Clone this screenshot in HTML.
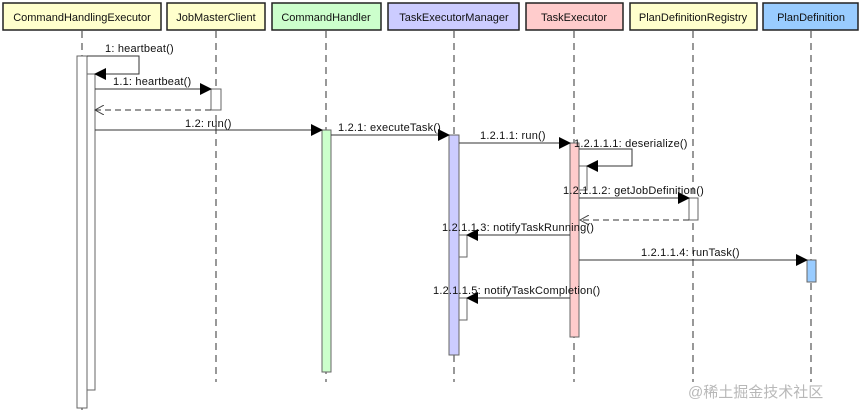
<!DOCTYPE html>
<html><head><meta charset="utf-8"><style>
html,body{margin:0;padding:0;background:#fff;}
svg{display:block;}
text{font-family:"Liberation Sans","Noto Sans CJK SC",sans-serif;font-size:11px;letter-spacing:0.2px;fill:#111;}
</style></head><body>
<svg width="864" height="414" viewBox="0 0 864 414" xmlns="http://www.w3.org/2000/svg">
<defs>
<marker id="a" markerWidth="12" markerHeight="12" refX="11" refY="6" orient="auto" markerUnits="userSpaceOnUse"><path d="M0,0 L12,6 L0,12 Z" fill="#000"/></marker>
<marker id="o" markerWidth="10" markerHeight="10" refX="9" refY="5" orient="auto" markerUnits="userSpaceOnUse"><path d="M0,0 L9,5 L0,10" fill="none" stroke="#444" stroke-width="1"/></marker>
</defs>
<g stroke="#222" stroke-width="1.5">
<rect x="3" y="3" width="158" height="27" fill="#ffffcc"/>
<rect x="167" y="3" width="98" height="27" fill="#ffffcc"/>
<rect x="272" y="3" width="109" height="27" fill="#ccffcc"/>
<rect x="388" y="3" width="131" height="27" fill="#ccccff"/>
<rect x="526" y="3" width="97" height="27" fill="#ffcccc"/>
<rect x="630" y="3" width="127" height="27" fill="#ffffcc"/>
<rect x="763" y="3" width="95" height="27" fill="#99ccff"/>
</g>
<g text-anchor="middle">
<text x="82" y="21" style="letter-spacing:0">CommandHandlingExecutor</text>
<text x="216" y="21" style="letter-spacing:0">JobMasterClient</text>
<text x="326" y="21" style="letter-spacing:0">CommandHandler</text>
<text x="454" y="21" style="letter-spacing:0">TaskExecutorManager</text>
<text x="574" y="21" style="letter-spacing:0">TaskExecutor</text>
<text x="693" y="21" style="letter-spacing:0">PlanDefinitionRegistry</text>
<text x="811" y="21" style="letter-spacing:0">PlanDefinition</text>
</g>
<g stroke="#555" stroke-width="1.2" stroke-dasharray="7,5">
<line x1="82" y1="31" x2="82" y2="413"/>
<line x1="216" y1="31" x2="216" y2="382"/>
<line x1="326" y1="31" x2="326" y2="382"/>
<line x1="454" y1="31" x2="454" y2="382"/>
<line x1="574" y1="31" x2="574" y2="382"/>
<line x1="693" y1="31" x2="693" y2="382"/>
<line x1="811" y1="31" x2="811" y2="382"/>
</g>
<g stroke="#666" stroke-width="1">
<rect x="77" y="56" width="10" height="352" fill="#fff"/>
<rect x="87" y="74" width="8" height="316" fill="#fff"/>
<rect x="211" y="89" width="10" height="21" fill="#fff"/>
<rect x="322" y="130" width="9" height="242" fill="#ccffcc"/>
<rect x="449" y="135" width="10" height="220" fill="#ccccff"/>
<rect x="570" y="143" width="9" height="194" fill="#ffcccc"/>
<rect x="579" y="166" width="8" height="24" fill="#fff"/>
<rect x="689" y="198" width="9" height="22" fill="#fff"/>
<rect x="459" y="235" width="8" height="22" fill="#fff"/>
<rect x="807" y="260" width="9" height="22" fill="#99ccff"/>
<rect x="459" y="298" width="8" height="22" fill="#fff"/>
</g>
<g stroke="#333" stroke-width="1" fill="none">
<polyline points="87,56 139,56 139,74 95,74" marker-end="url(#a)"/>
<line x1="95" y1="89" x2="211" y2="89" marker-end="url(#a)"/>
<line x1="211" y1="110" x2="95" y2="110" stroke-dasharray="6,4" marker-end="url(#o)"/>
<line x1="95" y1="130" x2="322" y2="130" marker-end="url(#a)"/>
<line x1="331" y1="135" x2="449" y2="135" marker-end="url(#a)"/>
<line x1="459" y1="143" x2="570" y2="143" marker-end="url(#a)"/>
<polyline points="579,149 632,149 632,166 587,166" marker-end="url(#a)"/>
<line x1="579" y1="198" x2="689" y2="198" marker-end="url(#a)"/>
<line x1="689" y1="220" x2="580" y2="220" stroke-dasharray="6,4" marker-end="url(#o)"/>
<line x1="570" y1="235" x2="467" y2="235" marker-end="url(#a)"/>
<line x1="579" y1="260" x2="807" y2="260" marker-end="url(#a)"/>
<line x1="570" y1="298" x2="467" y2="298" marker-end="url(#a)"/>
</g>
<text x="105" y="52">1: heartbeat()</text>
<text x="113" y="85">1.1: heartbeat()</text>
<text x="185" y="127">1.2: run()</text>
<text x="338" y="131">1.2.1: executeTask()</text>
<text x="480" y="139">1.2.1.1: run()</text>
<text x="574" y="147">1.2.1.1.1: deserialize()</text>
<text x="563" y="194">1.2.1.1.2: getJobDefinition()</text>
<text x="442" y="231">1.2.1.1.3: notifyTaskRunning()</text>
<text x="641" y="256">1.2.1.1.4: runTask()</text>
<text x="433" y="294">1.2.1.1.5: notifyTaskCompletion()</text>
<text x="688" y="397" style="font-size:15px;letter-spacing:0;fill:#b8b8b8">@稀土掘金技术社区</text>
</svg>
</body></html>
